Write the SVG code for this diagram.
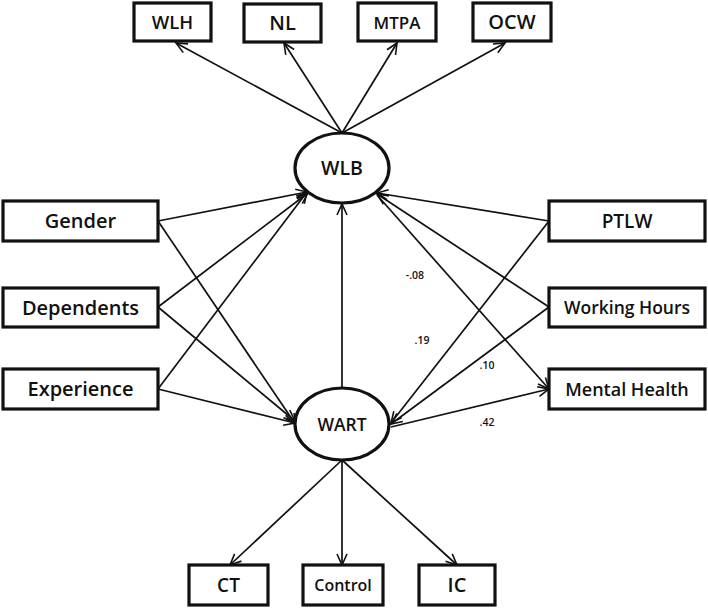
<svg xmlns="http://www.w3.org/2000/svg" width="708" height="608" viewBox="0 0 708 608">
<defs>
<marker id="ah" markerUnits="userSpaceOnUse" markerWidth="14" markerHeight="12" refX="11" refY="5" orient="auto" overflow="visible">
<path d="M0,0 L11,5 L0,10" fill="none" stroke="#111" stroke-width="1.6"/>
</marker>
</defs>
<style>
.box{fill:#fff;stroke:#111;stroke-width:3.2}
.ell{fill:#fff;stroke:#111;stroke-width:3.2}
.t{font-family:"Open Sans","Liberation Sans",sans-serif;font-weight:600;fill:#111;text-anchor:middle}
.n{font-family:"Open Sans","Liberation Sans",sans-serif;font-size:10.5px;font-weight:600;fill:#111;text-anchor:middle}
.c line{stroke:#111;stroke-width:1.7;marker-end:url(#ah)}
</style>
<rect width="708" height="608" fill="#fff"/>
<g class="c" id="connectors">
<line x1="342" y1="133" x2="176" y2="43"/>
<line x1="342" y1="133" x2="284" y2="43"/>
<line x1="342" y1="133" x2="397" y2="43"/>
<line x1="342" y1="133" x2="505" y2="43"/>
<line x1="158" y1="221" x2="307" y2="192"/>
<line x1="158" y1="307" x2="308" y2="193"/>
<line x1="158" y1="389" x2="307" y2="192"/>
<line x1="158" y1="221" x2="296" y2="425"/>
<line x1="158" y1="307" x2="295" y2="421"/>
<line x1="158" y1="389" x2="295" y2="423"/>
<line x1="342" y1="388" x2="342" y2="204"/>
<line x1="549" y1="221" x2="377" y2="193"/>
<line x1="549" y1="307" x2="377" y2="194"/>
<line x1="377" y1="195" x2="549" y2="389"/>
<line x1="549" y1="221" x2="391" y2="423"/>
<line x1="549" y1="307" x2="391" y2="424"/>
<line x1="391" y1="427" x2="549" y2="389"/>
<line x1="342" y1="460" x2="230" y2="565"/>
<line x1="342" y1="460" x2="342" y2="565"/>
<line x1="342" y1="460" x2="457" y2="565"/>
</g>
<g id="n-WLH"><rect class="box" x="134" y="3" width="77" height="38"/><text class="t" x="172.5" y="29" font-size="18.5">WLH</text></g>
<g id="n-NL"><rect class="box" x="244" y="4" width="77" height="38"/><text class="t" x="282.5" y="30" font-size="20">NL</text></g>
<g id="n-MTPA"><rect class="box" x="358" y="3" width="78" height="38"/><text class="t" x="397" y="28.5" font-size="17">MTPA</text></g>
<g id="n-OCW"><rect class="box" x="473" y="3" width="78" height="38"/><text class="t" x="512" y="29" font-size="20">OCW</text></g>
<g id="n-WLB"><ellipse class="ell" cx="342" cy="168" rx="47" ry="35"/><text class="t" x="342" y="175" font-size="19.5">WLB</text></g>
<g id="n-WART"><ellipse class="ell" cx="342" cy="424" rx="47" ry="36"/><text class="t" x="342" y="430.5" font-size="17.5">WART</text></g>
<g id="n-Gender"><rect class="box" x="3" y="201" width="155" height="40"/><text class="t" x="80.5" y="228" font-size="20">Gender</text></g>
<g id="n-Dependents"><rect class="box" x="3" y="288" width="155" height="39"/><text class="t" x="80.5" y="314.5" font-size="20">Dependents</text></g>
<g id="n-Experience"><rect class="box" x="3" y="369" width="155" height="40"/><text class="t" x="80.5" y="396" font-size="20">Experience</text></g>
<g id="n-PTLW"><rect class="box" x="549" y="201" width="156" height="40"/><text class="t" x="627" y="228" font-size="19">PTLW</text></g>
<g id="n-WorkingHours"><rect class="box" x="549" y="288" width="156" height="39"/><text class="t" x="627" y="314" font-size="17.5">Working Hours</text></g>
<g id="n-MentalHealth"><rect class="box" x="549" y="369" width="156" height="40"/><text class="t" x="627" y="395.5" font-size="18">Mental Health</text></g>
<g id="n-CT"><rect class="box" x="189" y="565" width="79" height="40"/><text class="t" x="228.5" y="592" font-size="19">CT</text></g>
<g id="n-Control"><rect class="box" x="303" y="565" width="80" height="40"/><text class="t" x="343" y="591" font-size="16">Control</text></g>
<g id="n-IC"><rect class="box" x="419" y="565" width="76" height="40"/><text class="t" x="457" y="592" font-size="20">IC</text></g>
<g id="labels">
<text class="n" x="415" y="279">-.08</text>
<text class="n" x="422" y="344">.19</text>
<text class="n" x="487" y="369">.10</text>
<text class="n" x="487" y="426">.42</text>
</g>
</svg>
